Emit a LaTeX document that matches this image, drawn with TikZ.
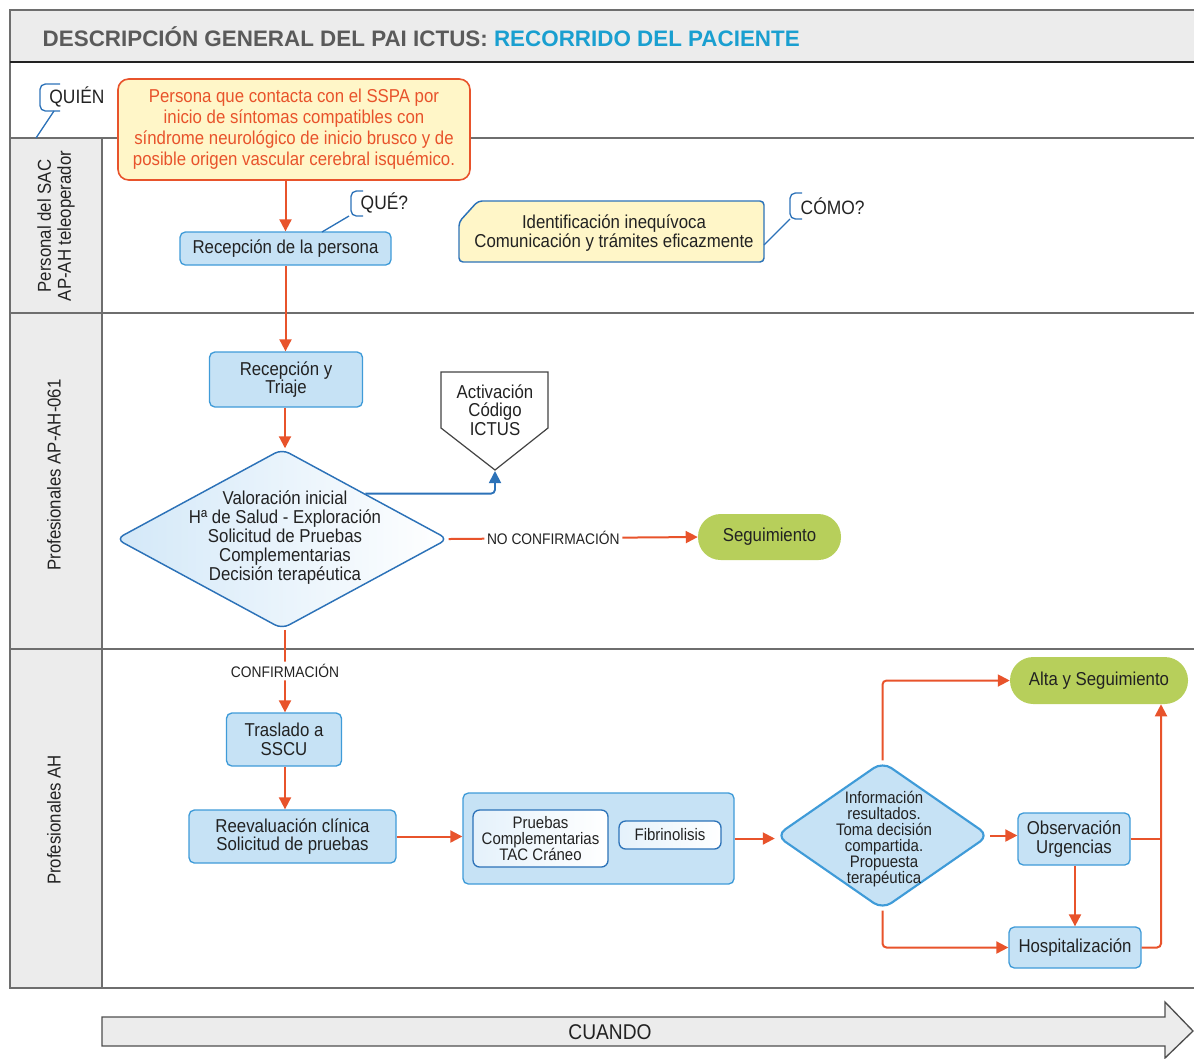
\documentclass[tikz,border=0pt]{standalone}
\usepackage{fontspec}
\setmainfont{Liberation Sans}[FakeStretch=0.9]
\newfontfamily\titlefont{Liberation Sans}
\usepackage{xcolor}
\usepackage{tikz}
\usetikzlibrary{shapes.geometric,arrows.meta}

\definecolor{ictred}{HTML}{E8532B}
\definecolor{boxblue}{HTML}{3F9BD8}
\definecolor{darkblue}{HTML}{2C72B8}
\definecolor{lightblue}{HTML}{C6E2F5}
\definecolor{paleblue}{HTML}{D3E8F8}
\definecolor{leafgreen}{HTML}{B7CF5B}
\definecolor{paleyellow}{HTML}{FFF6C8}
\definecolor{bandgray}{HTML}{ECECEC}
\definecolor{lanegray}{HTML}{6E6E6E}
\definecolor{titlegray}{HTML}{5A5A5A}
\definecolor{titleblue}{HTML}{1A9FD0}
\definecolor{txt}{HTML}{222222}

\begin{document}
\begin{tikzpicture}[x=0.75pt,y=-0.75pt,
  proc/.style={draw=boxblue,fill=lightblue,line width=1pt,rounded corners=4pt,align=center,inner sep=0pt,text=txt,font=\fontsize{14}{14}\selectfont},
  inner/.style={draw=darkblue,line width=1pt,rounded corners=5pt,left color=paleblue!60,right color=white,align=center,inner sep=0pt,text=txt,font=\fontsize{12.5}{12}\selectfont},
  pill/.style={fill=leafgreen,align=center,inner sep=0pt,text=txt,font=\fontsize{14}{15}\selectfont},
  flow/.style={draw=ictred,line width=1.5pt,rounded corners=3pt,-{Triangle[length=9pt,width=9pt]}},
  blueflow/.style={draw=darkblue,line width=1.4pt,rounded corners=3pt,-{Triangle[length=9pt,width=9pt]}},
  lbl/.style={fill=white,inner sep=2pt,text=txt,font=\fontsize{11.5}{12}\selectfont},
  callout/.style={draw=darkblue,line width=1pt},
  calltext/.style={text=txt,font=\fontsize{14.5}{15}\selectfont},
  lane/.style={draw=lanegray,line width=1pt},
  lanetext/.style={rotate=90,align=center,text=txt,font=\fontsize{14}{15}\selectfont}]

\useasboundingbox (0,0) rectangle (1194,1058);

\fill[bandgray] (10,10) rectangle (1194,62);
\fill[bandgray] (10,138) rectangle (102,988);
\draw[lane] (1194,10) -- (10,10) -- (10,988) -- (1194,988);
\draw[draw=txt,line width=1.2pt] (10,62) -- (1194,62);
\draw[lane] (10,138) -- (1194,138);
\draw[lane] (10,313) -- (1194,313);
\draw[lane] (10,649) -- (1194,649);
\draw[lane] (102,138) -- (102,988);

\node[anchor=west,font=\titlefont\fontsize{16.8}{17}\selectfont\bfseries] at(38,37) (title) {\color{titlegray}DESCRIPCIÓN GENERAL DEL PAI ICTUS: \color{titleblue}RECORRIDO DEL PACIENTE};

\node[lanetext] at(56,226) (lane1) {Personal del SAC\\AP-AH teleoperador};
\node[lanetext] at(54,475) (lane2) {Profesionales AP-AH-061};
\node[lanetext] at(54,820) (lane3) {Profesionales AH};

\draw[callout,rounded corners=4pt] (60,84) -- (40,84) -- (40,111) -- (60,111);
\draw[callout] (54,111) -- (36,138);
\node[calltext] at(77,97) (quien) {QUIÉN};

\node[draw=ictred,fill=paleyellow,line width=1.2pt,rounded corners=8pt,minimum width=264pt,minimum height=75.75pt,inner sep=0pt,align=center,text=ictred,font=\fontsize{14}{15.75}\selectfont] at(294,129.5) (start) {Persona que contacta con el SSPA por\\inicio de síntomas compatibles con\\síndrome neurológico de inicio brusco y de\\posible origen vascular cerebral isquémico.};

\node[proc,minimum width=158.25pt,minimum height=24.75pt] at(285.5,248.5) (recep) {Recepción de la persona};

\draw[callout,rounded corners=4pt] (363,191) -- (351,191) -- (351,216) -- (363,216);
\draw[callout] (349,216) -- (322,232);
\node[calltext,anchor=west] at(356,203) (que) {QUÉ?};

\draw[draw=darkblue,fill=paleyellow,line width=1.1pt,rounded corners=3pt] (459,222) -- (478,201) -- (764,201) -- (764,262) -- (459,262) -- cycle;
\node[align=center,text=txt,font=\fontsize{14}{14.5}\selectfont] at(614,233) (ident) {Identificación inequívoca\\Comunicación y trámites eficazmente};
\coordinate (identcorner) at(764,245);

\draw[callout,rounded corners=4pt] (802,193) -- (790,193) -- (790,219) -- (802,219);
\draw[callout] (790,219) -- (identcorner);
\node[calltext,anchor=west] at(796,206) (como) {CÓMO?};

\node[proc,minimum width=114.75pt,minimum height=41.25pt] at(286,379.5) (triaje) {Recepción y\\Triaje};

\node[diamond,draw=darkblue,line width=1.1pt,rounded corners=6pt,left color=paleblue,right color=white,minimum width=249pt,minimum height=135pt,inner sep=0pt] at(282,539) (valor) {};
\node[align=center,text=txt,font=\fontsize{14}{14.25}\selectfont] at(285,538) (valortext) {Valoración inicial\\Hª de Salud - Exploración\\Solicitud de Pruebas\\Complementarias\\Decisión terapéutica};

\draw[draw=txt!85,fill=white,line width=0.9pt] (441,372) -- (548,372) -- (548,428) -- (495,470) -- (441,428) -- cycle;
\node[align=center,text=txt,font=\fontsize{14}{14}\selectfont] at(495,410) (activ) {Activación\\Código\\ICTUS};
\coordinate (acttip) at(495,471);

\node[pill,rounded corners=17pt,minimum width=107.25pt,minimum height=34.5pt] at(769.5,537) (segui) {Seguimiento};

\node[proc,minimum width=86.25pt,minimum height=39.75pt] at(284,739.5) (traslado) {Traslado a\\SSCU};
\node[proc,minimum width=155.25pt,minimum height=39.75pt] at(292.5,836.5) (reeval) {Reevaluación clínica\\Solicitud de pruebas};

\node[draw=boxblue,fill=lightblue,line width=1pt,rounded corners=4pt,minimum width=203.25pt,minimum height=68.25pt] at(598.5,838.5) (pruebas) {};
\node[inner,minimum width=101.25pt,minimum height=42.75pt] at(540.5,838.5) (tac) {Pruebas\\Complementarias\\TAC Cráneo};
\node[inner,minimum width=76.5pt,minimum height=21pt] at(670,835) (fibrin) {Fibrinolisis};

\node[diamond,draw=boxblue,fill=lightblue,line width=1.6pt,rounded corners=8pt,minimum width=160pt,minimum height=111pt,inner sep=0pt] at(882.5,835.5) (info) {};
\node[align=center,text=txt,font=\fontsize{12.5}{12}\selectfont] at(884,839) (infotext) {Información\\resultados.\\Toma decisión\\compartida.\\Propuesta\\terapéutica};

\node[proc,minimum width=84pt,minimum height=39pt] at(1074,839) (observ) {Observación\\Urgencias};
\node[proc,minimum width=99pt,minimum height=30.75pt] at(1075,947.5) (hosp) {Hospitalización};
\node[pill,rounded corners=17.5pt,minimum width=133.5pt,minimum height=35.25pt] at(1099,680.5) (alta) {Alta y Seguimiento};
\coordinate (join) at(1161,836);

\draw[flow] (recep.north |- start.south) -- (recep.north);
\draw[flow] (recep.south) -- (recep.south |- triaje.north);
\draw[flow] (triaje.south -| valortext) -- (valor.north -| valortext);
\draw[blueflow] (valor.north east) -| (acttip);
\draw[flow] (valor.east) -- node[lbl,pos=0.42]{NO CONFIRMACIÓN} (segui.west);
\draw[flow] (valor.south -| valortext) -- node[lbl,pos=0.5]{CONFIRMACIÓN} (valortext |- traslado.north);
\draw[flow] (traslado.south -| valortext) -- (valortext |- reeval.north);
\draw[flow] (reeval.east) -- (reeval.east -| pruebas.west);
\draw[flow] (pruebas.east) -- (pruebas.east -| info.west);
\draw[flow] (info.east) -- (info.east -| observ.west);
\draw[flow] (info.north) |- (alta.west);
\draw[flow] (info.south) |- (hosp.west);
\draw[flow] (observ.south -| hosp.north) -- (hosp.north);
\draw[ictred,line width=1.5pt] (observ.east) -- (observ.east -| join);
\draw[flow] (hosp.east) -| (join) -- (join |- alta.south);

\draw[draw=txt!80,fill=bandgray,line width=1pt] (102,1017) -- (1165,1017) -- (1165,1002) -- (1193,1031) -- (1165,1058) -- (1165,1046) -- (102,1046) -- cycle;
\node[text=txt,font=\fontsize{16}{16}\selectfont] at(610,1032) (cuando) {CUANDO};
\end{tikzpicture}
\end{document}
